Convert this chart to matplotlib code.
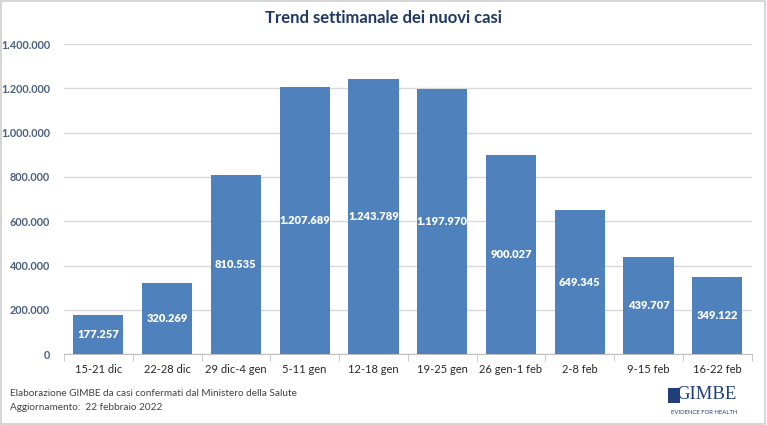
import numpy as np
import matplotlib.pyplot as plt
from matplotlib.patches import Rectangle

weeks = ['15-21 dic', '22-28 dic', '29 dic-4 gen', '5-11 gen', '12-18 gen',
         '19-25 gen', '26 gen-1 feb', '2-8 feb', '9-15 feb', '16-22 feb']
cases = [177257, 320269, 810535, 1207689, 1243789, 1197970, 900027, 649345, 439707, 349122]
yticks = [0, 200000, 400000, 600000, 800000, 1000000, 1200000, 1400000]


def fmt(v):
    return f'{v:,}'.replace(',', '.')


plt.rcParams['font.family'] = ['Lato', 'DejaVu Sans']

fig = plt.figure(figsize=(7.67, 4.25), dpi=100)
fig.patches.append(Rectangle((0.001, 0.002), 0.997, 0.996, transform=fig.transFigure,
                             fill=False, edgecolor='#d0d0d0', linewidth=1.2))
ax = fig.add_axes([0.0834, 0.167, 0.8966, 0.729])

x = np.arange(len(weeks))
ax.bar(x, cases, width=0.73, color='#4f81bd', zorder=3)
for xi, v in zip(x, cases):
    ax.text(xi, v / 2, fmt(v), ha='center', va='center', color='white',
            fontsize=8, fontweight='heavy', zorder=4)

ax.set_xlim(-0.5, len(weeks) - 0.5)
ax.set_ylim(0, 1400000)
ax.set_yticks(yticks)
ax.set_yticklabels([fmt(v) for v in yticks], color='#4a5f7e', fontsize=7.8, fontweight='bold')
ax.set_xticks(x)
ax.set_xticklabels(weeks, fontsize=8, color='#262626')
ax.set_xticks(np.arange(-0.5, len(weeks)), minor=True)
ax.tick_params(axis='x', which='major', length=0, pad=7)
ax.tick_params(axis='x', which='minor', length=5, color='#bfbfbf')
ax.tick_params(axis='y', length=0, pad=10)
ax.grid(axis='y', color='#d9d9d9', linewidth=1, zorder=0)
for s in ['top', 'right', 'left']:
    ax.spines[s].set_visible(False)
ax.spines['bottom'].set_color('#bfbfbf')

fig.text(0.5, 0.958, 'Trend settimanale dei nuovi casi', ha='center', va='center',
         fontsize=12, fontweight='bold', color='#1f3864')

fig.text(0.013, 0.075, 'Elaborazione GIMBE da casi confermati dal Ministero della Salute',
         fontsize=7.2, color='#404040', va='center')
fig.text(0.013, 0.042, 'Aggiornamento:  22 febbraio 2022',
         fontsize=7.2, color='#404040', va='center')

fig.text(0.961, 0.072, 'GIMBE', ha='right', va='center', fontsize=13.5,
         family='Liberation Serif', color='#1f3f7a')
fig.text(0.961, 0.029, 'EVIDENCE FOR HEALTH', ha='right', va='center', fontsize=4.3,
         color='#1f3f7a')
fig.patches.append(Rectangle((0.871, 0.052), 0.015, 0.036, transform=fig.transFigure,
                             facecolor='#1f3f7a', edgecolor='none'))

fig.savefig('out.png', dpi=100)
